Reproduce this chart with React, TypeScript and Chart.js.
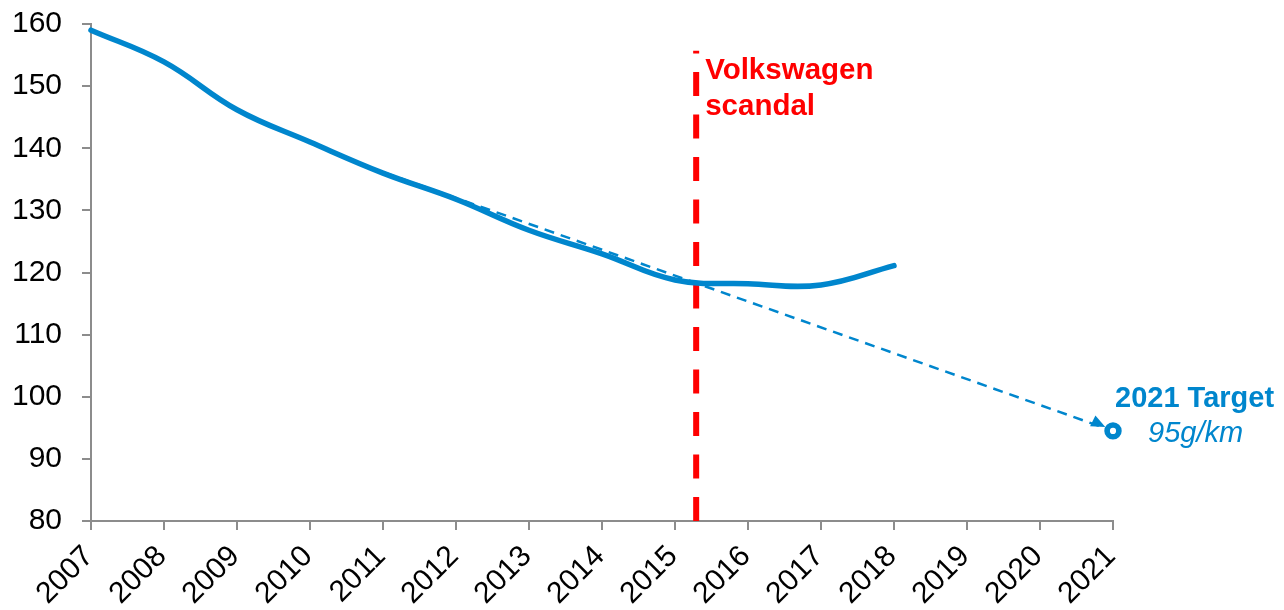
import { useEffect, useRef } from 'react';
import { Chart, registerables } from 'chart.js';

Chart.register(...registerables);

// ---- Data ----
const years = [2007, 2008, 2009, 2010, 2011, 2012, 2013, 2014, 2015, 2016, 2017, 2018];
const emissions = [159, 153.9, 146.2, 141, 136, 131.8, 126.8, 123, 118.8, 118.2, 118.0, 121.1];

const trendYears = [2010.8, 2021];
const trendValues = [137.0, 94.5];

const targetYear = 2021;
const targetValue = 94.5;

const scandalYear = 2015.29;
const scandalRange = [80, 155.7];

const yTicks = [80, 90, 100, 110, 120, 130, 140, 150, 160];
const xMin = 2007;
const xMax = 2021;

const scandalLines = ['Volkswagen', 'scandal'];
const targetTitle = '2021 Target';
const targetSub = '95g/km';

const BLUE = '#0086CD';
const RED = '#FF0000';
const AXIS = '#8C8C8C';
const FONT = '"Liberation Sans", Arial, sans-serif';

const annotationPlugin = {
  id: 'annotations',
  afterDatasetsDraw(chart: any) {
    const { ctx, scales } = chart;
    const xs = scales.x;
    const ys = scales.y;
    ctx.save();

    // arrow head at end of trend line
    const x0 = xs.getPixelForValue(trendYears[0]);
    const y0 = ys.getPixelForValue(trendValues[0]);
    const x1 = xs.getPixelForValue(trendYears[1]);
    const y1 = ys.getPixelForValue(trendValues[1]);
    const ang = Math.atan2(y1 - y0, x1 - x0) + 0.12;
    const tipX = x1 - Math.cos(ang) * 8.6;
    const tipY = y1 - Math.sin(ang) * 8.6;
    const len = 14;
    const half = 6;
    const bx = tipX - Math.cos(ang) * len;
    const by = tipY - Math.sin(ang) * len;
    ctx.fillStyle = BLUE;
    ctx.beginPath();
    ctx.moveTo(tipX, tipY);
    ctx.lineTo(bx + Math.sin(ang) * half, by - Math.cos(ang) * half);
    ctx.lineTo(bx - Math.sin(ang) * half, by + Math.cos(ang) * half);
    ctx.closePath();
    ctx.fill();

    // scandal text
    const sx = xs.getPixelForValue(scandalYear);
    const sTop = ys.getPixelForValue(scandalRange[1]);
    ctx.fillStyle = RED;
    ctx.font = `bold 29.5px ${FONT}`;
    ctx.textAlign = 'left';
    ctx.textBaseline = 'alphabetic';
    scandalLines.forEach((t, i) => {
      ctx.fillText(t, sx + 9, sTop + 28 + i * 36);
    });

    // target text
    const tx = xs.getPixelForValue(targetYear);
    const ty = ys.getPixelForValue(targetValue);
    ctx.fillStyle = BLUE;
    ctx.font = `bold 29px ${FONT}`;
    ctx.fillText(targetTitle, tx + 2, ty - 24.3);
    ctx.font = `italic 29px ${FONT}`;
    ctx.fillText(targetSub, tx + 35, ty + 10.7);

    ctx.restore();
  },
};

export default function App() {
  const ref = useRef<HTMLCanvasElement | null>(null);

  useEffect(() => {
    document.body.style.margin = '0';
    const canvas = ref.current;
    if (!canvas) return;
    const chart = new Chart(canvas, {
      type: 'line',
      data: {
        datasets: [
          {
            label: 'target',
            data: [{ x: targetYear, y: targetValue }],
            showLine: false,
            pointRadius: 5.9,
            pointBorderWidth: 5.6,
            pointBackgroundColor: '#FFFFFF',
            pointBorderColor: BLUE,
            clip: false as any,
          },
          {
            label: 'emissions',
            data: years.map((yr, i) => ({ x: yr, y: emissions[i] })),
            borderColor: BLUE,
            borderWidth: 5.5,
            pointRadius: 0,
            tension: 0.4,
            fill: false,
            borderCapStyle: 'round',
            clip: false as any,
          },
          {
            label: 'trend',
            data: trendYears.map((yr, i) => ({ x: yr, y: trendValues[i] })),
            borderColor: BLUE,
            borderWidth: 2.5,
            borderDash: [10, 7],
            pointRadius: 0,
            tension: 0,
            fill: false,
            clip: false as any,
          },
          {
            label: 'scandal',
            data: scandalRange.map((v) => ({ x: scandalYear, y: v })),
            borderColor: RED,
            borderWidth: 6,
            borderDash: [24, 18.5],
            pointRadius: 0,
            tension: 0,
            fill: false,
            clip: false as any,
          },
        ],
      },
      options: {
        animation: false,
        responsive: true,
        maintainAspectRatio: false,
        layout: { padding: { top: 24, right: 171, left: 0, bottom: 0 } },
        plugins: {
          legend: { display: false },
          tooltip: { enabled: false },
        },
        scales: {
          x: {
            type: 'linear',
            min: xMin,
            max: xMax,
            afterFit: (s: any) => {
              s.height = 89;
              s.paddingLeft = 0;
              s.paddingRight = 0;
            },
            border: { display: true, color: AXIS, width: 2 },
            grid: {
              drawOnChartArea: false,
              drawTicks: true,
              tickLength: 9,
              color: AXIS,
              lineWidth: 2,
            },
            ticks: {
              stepSize: 1,
              autoSkip: false,
              maxRotation: 45,
              minRotation: 45,
              padding: 9,
              labelOffset: -2,
              color: '#000000',
              font: { family: FONT, size: 30 },
              callback: (v: any) => String(v),
            },
          },
          y: {
            type: 'linear',
            min: yTicks[0],
            max: yTicks[yTicks.length - 1],
            afterFit: (s: any) => {
              s.width = 91;
              s.paddingTop = 0;
              s.paddingBottom = 0;
            },
            afterBuildTicks: (s: any) => {
              s.ticks = yTicks.map((v) => ({ value: v }));
            },
            border: { display: true, color: AXIS, width: 2 },
            grid: {
              drawOnChartArea: false,
              drawTicks: true,
              tickLength: 9,
              color: AXIS,
              lineWidth: 2,
            },
            ticks: {
              padding: 20,
              color: '#000000',
              font: { family: FONT, size: 30 },
              callback: (v: any) => String(v),
            },
          },
        },
      },
      plugins: [annotationPlugin],
    });
    return () => chart.destroy();
  }, []);

  return (
    <div style={{ position: 'fixed', left: 0, top: 0, width: 1284, height: 610 }}>
      <canvas ref={ref} />
    </div>
  );
}
